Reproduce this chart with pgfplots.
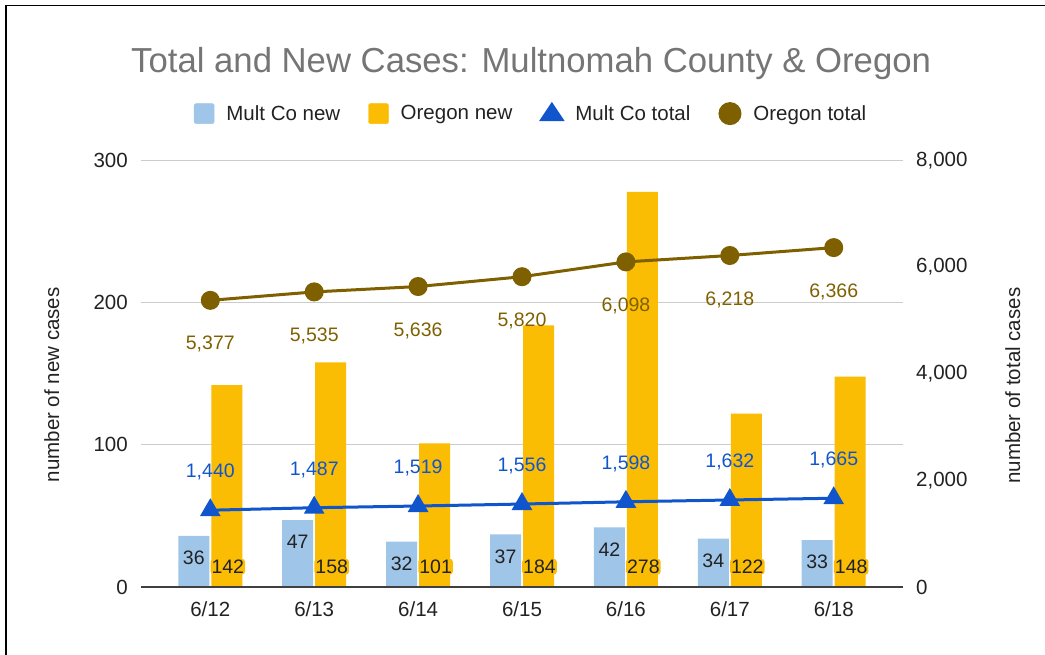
\documentclass[border=0pt]{standalone}
\usepackage{fontspec}
\setmainfont{Liberation Sans}
\usepackage{pgfplots}
\usepackage{pgfplotstable}
\pgfplotsset{compat=1.18}
\definecolor{mcnew}{HTML}{9FC5E8}
\definecolor{ornew}{HTML}{FBBC04}
\definecolor{mctot}{HTML}{1155CC}
\definecolor{ortot}{HTML}{7F6000}
\definecolor{gridc}{HTML}{CCCCCC}
\definecolor{titlegray}{HTML}{757575}
\definecolor{txt}{HTML}{222222}
\pgfplotsset{/pgf/number format/assume math mode=true}
\pgfplotstableread{
x mcnew ornew mctot ortot
0 36 142 1440 5377
1 47 158 1487 5535
2 32 101 1519 5636
3 37 184 1556 5820
4 42 278 1598 6098
5 34 122 1632 6218
6 33 148 1665 6366
}\datatable
\newcommand{\lblfont}{\fontsize{20.5}{24}\selectfont}
\newcommand{\datfont}{\fontsize{19.5}{23}\selectfont}
\begin{document}
\begin{tikzpicture}
\path[use as bounding box] (0,0) rectangle (1045pt,655pt);
\draw[line width=1.3pt] (5pt,649.5pt) -- (1045pt,649.5pt);
\draw[line width=2pt] (6pt,0pt) -- (6pt,650pt);
\begin{axis}[
  at={(141pt,68pt)}, anchor=south west,
  scale only axis, width=762pt, height=426.5pt,
  xmin=-0.667, xmax=6.667, ymin=0, ymax=300,
  axis line style={draw=none},
  tick style={draw=none},
  xtick={0,...,6},
  xticklabels={6/12,6/13,6/14,6/15,6/16,6/17,6/18},
  ytick={0,100,200,300},
  ymajorgrids, grid style={gridc, line width=1pt},
  xticklabel style={font=\lblfont, text=txt, inner sep=0pt, anchor=center, yshift=-22pt},
  yticklabel style={font=\lblfont, text=txt, inner sep=0pt, xshift=-13pt},
  ylabel={number of new cases},
  ylabel style={at={(axis description cs:-0.117,0.474)}, anchor=center, font=\lblfont, text=txt},
  title={Total and New Cases: Multnomah County \& Oregon},
  title style={at={(axis description cs:0.512,1.213)}, anchor=center, font=\fontsize{34.7}{40}\selectfont, text=titlegray},
  clip=false,
]
\addplot[ybar, bar width=31pt, bar shift=-16.5pt, fill=mcnew, draw=none,
  nodes near coords={\pgfmathprintnumber{\pgfplotspointmeta}},
  nodes near coords style={font=\datfont, text=txt, anchor=center, xshift=-16.5pt, yshift=-22pt, inner sep=0pt}]
  table[x=x, y=mcnew]{\datatable};
\addplot[ybar, bar width=31pt, bar shift=16.5pt, fill=ornew, draw=none,
  visualization depends on={rawy \as \rawy},
  nodes near coords={\pgfmathprintnumber{\pgfplotspointmeta}},
  nodes near coords style={font=\datfont, text=txt, anchor=center, inner sep=1pt, fill=ornew, rounded corners=3pt, xshift=17.5pt, yshift={(14.3-\rawy)*1.42167pt}}]
  table[x=x, y=ornew]{\datatable};
\draw[color=black!75, line width=1.3pt] (axis cs:-0.667,0) -- (axis cs:6.667,0);
\end{axis}
\begin{axis}[
  at={(141pt,68pt)}, anchor=south west,
  scale only axis, width=762pt, height=426.5pt,
  xmin=-0.667, xmax=6.667, ymin=0, ymax=8000,
  axis line style={draw=none},
  tick style={draw=none},
  xtick=\empty,
  axis y line*=right,
  ytick={0,2000,4000,6000,8000},
  scaled y ticks=false,
  /pgf/number format/1000 sep={,},
  yticklabel style={font=\lblfont, text=txt, inner sep=0pt, xshift=13pt},
  ylabel={number of total cases},
  ylabel style={at={(axis description cs:1.144,0.472)}, anchor=center, font=\lblfont, text=txt, rotate=0},
  legend columns=4,
  legend style={at={(axis description cs:0.512,1.110)}, anchor=center, draw=none, fill=none,
    font=\lblfont, text=txt,
    /tikz/every odd column/.append style={column sep=10pt},
    /tikz/every even column/.append style={column sep=26pt}},
  legend cell align=left,
  clip=false,
]
\addlegendimage{legend image code/.code={\fill[mcnew, rounded corners=2pt] (0pt,-10pt) rectangle (20pt,10pt);}}
\addlegendentry{Mult Co new}
\addlegendimage{legend image code/.code={\fill[ornew, rounded corners=2pt] (0pt,-10pt) rectangle (20pt,10pt);}}
\addlegendentry{Oregon new}
\addplot[mctot, line width=3pt, mark=triangle*, mark size=9pt, mark options={solid},
  legend image code/.code={\fill[mctot] (0pt,-6pt) -- (20pt,-6pt) -- (10pt,9pt) -- cycle;},
  nodes near coords={\pgfmathprintnumber{\pgfplotspointmeta}},
  nodes near coords style={font=\datfont, text=mctot, anchor=center, inner sep=0pt, yshift=38pt}]
  table[x=x, y=mctot]{\datatable};
\addlegendentry{Mult Co total}
\addplot[ortot, line width=3pt, mark=*, mark size=8pt,
  legend image code/.code={\fill[ortot] (10pt,0pt) circle (10pt);},
  nodes near coords={\pgfmathprintnumber{\pgfplotspointmeta}},
  nodes near coords style={font=\datfont, text=ortot, anchor=center, inner sep=0pt, yshift=-44pt}]
  table[x=x, y=ortot]{\datatable};
\addlegendentry{Oregon total}
\end{axis}
\end{tikzpicture}
\end{document}
